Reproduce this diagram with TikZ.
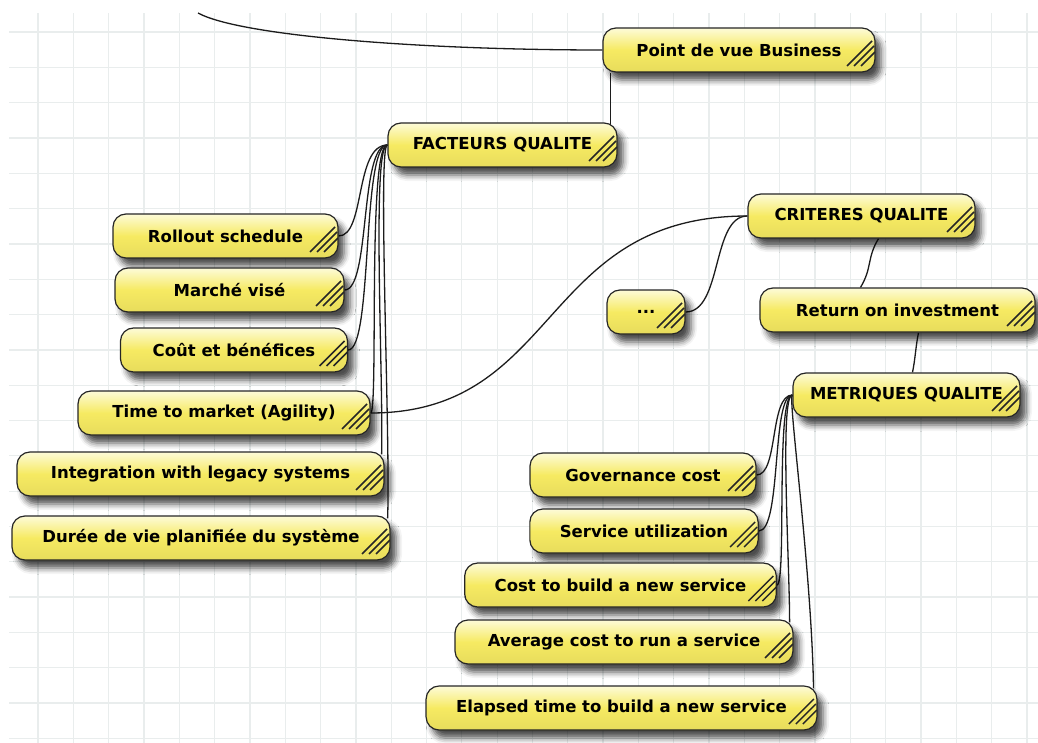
\documentclass[tikz,border=0pt]{standalone}
\usepackage{fontspec}
\newfontfamily\topicfont{DejaVu Sans}
\definecolor{TopicYellow}{RGB}{246,234,98}
\definecolor{TopicLight}{RGB}{253,251,216}
\definecolor{GridColor}{RGB}{233,237,237}
\definecolor{LinkColor}{RGB}{28,28,28}
\usetikzlibrary{shadows, shadows.blur, backgrounds, positioning}
\tikzstyle{topic} = [draw=black!85, line width=1.2pt, rounded corners=13pt,
  minimum height=44pt, minimum width=227pt, inner xsep=30pt,
  top color=TopicLight, bottom color=TopicYellow!94!black, middle color=TopicYellow,
  blur shadow={shadow xshift=6pt, shadow yshift=-8pt, shadow blur radius=6pt, shadow opacity=70},
  font=\topicfont\bfseries\fontsize{16.5}{18}\selectfont, grip]
\tikzstyle{grip} = [path picture={
  \draw[line width=1.5pt, black!85]
    ([shift={(-28pt,6pt)}]path picture bounding box.south east) -- ++(25pt,25pt)
    ([shift={(-21pt,6pt)}]path picture bounding box.south east) -- ++(20pt,20pt)
    ([shift={(-14pt,6pt)}]path picture bounding box.south east) -- ++(14pt,14pt);}]
\tikzstyle{link} = [line width=1.3pt, LinkColor]

\begin{document}
\begin{tikzpicture}[x=1pt, y=1pt]
  \useasboundingbox (0,0) rectangle (1038,-743);

  % quality factors
  \node[topic, minimum width=272pt] (pvb) at (739,-50) {Point de vue Business};
  \node[topic, minimum width=229pt, inner xsep=14pt] (fq) at (502.5,-145) {FACTEURS QUALITE};
  \node[topic, minimum width=225pt] (rollout) at (225.5,-236) {Rollout schedule};
  \node[topic, minimum width=229pt] (marche) at (229.5,-290) {Marché visé};
  \node[topic] (cout) at (234,-350) {Coût et bénéfices};
  \node[topic, minimum width=292pt] (time) at (224,-413) {Time to market (Agility)};
  \node[topic, minimum width=367pt] (integ) at (200.5,-474) {Integration with legacy systems};
  \node[topic, minimum width=378pt] (duree) at (201,-538) {Durée de vie planifiée du système};

  % criteria and metrics
  \node[topic, inner xsep=14pt] (crit) at (861.5,-216) {CRITERES QUALITE};
  \node[topic, minimum width=78pt, inner xsep=8pt] (dots) at (646,-312) {...};
  \node[topic, minimum width=275pt] (roi) at (897.5,-310) {Return on investment};
  \node[topic, inner xsep=6pt] (metr) at (906.5,-395) {METRIQUES QUALITE};
  \node[topic, minimum width=226pt] (gov) at (643,-475) {Governance cost};
  \node[topic, minimum width=226pt] (serv) at (644,-531) {Service utilization};
  \node[topic, minimum width=307pt] (costb) at (620.5,-585) {Cost to build a new service};
  \node[topic, minimum width=338pt] (avg) at (624,-642) {Average cost to run a service};
  \node[topic, minimum width=387pt] (elap) at (621.5,-708) {Elapsed time to build a new service};

  \coordinate (origin) at (198,-13);

  \begin{scope}[on background layer]
    \begin{scope}[shift={(2.68,-32)}]
      \draw[GridColor, line width=1.3pt, step=35.32pt] (6.32,19) grid (1035.32,-711);
    \end{scope}

    \draw[link] (origin) .. controls +(42,-23) and +(-180,0) .. (pvb.west);
    \draw[link] ([xshift=8pt]pvb.south west) -- +(0,-55);

    \draw[link] (fq.west) .. controls +(-33,0) and +(27,0) .. (rollout.east);
    \draw[link] (fq.west) .. controls +(-28,0) and +(26,0) .. (marche.east);
    \draw[link] (fq.west) .. controls +(-26,0) and +(25,0) .. (cout.east);
    \draw[link] (fq.west) .. controls +(-20,0) and +(8,0) .. (time.east);
    \draw[link] (fq.west) .. controls +(-16,0) and +(2,75) .. ([xshift=-3pt,yshift=-3pt]integ.north east);
    \draw[link] (fq.west) .. controls +(-10,0) and +(3,80) .. ([xshift=-3pt,yshift=-3pt]duree.north east);

    \draw[link] (time.east) .. controls +(190,0) and +(-208,0) .. (crit.west);
    \draw[link] (crit.west) .. controls +(-36,0) and +(37,0) .. (dots.east);
    \draw[link] ([xshift=17pt]crit.south) .. controls +(-12,-20) and +(12,20) .. ([xshift=-37pt]roi.north);
    \draw[link] ([xshift=21pt]roi.south) .. controls +(-3,-15) and +(3,15) .. ([xshift=6pt]metr.north);

    \draw[link] (metr.west) .. controls +(-23,0) and +(22,0) .. (gov.east);
    \draw[link] (metr.west) .. controls +(-21,0) and +(23,0) .. (serv.east);
    \draw[link] (metr.west) .. controls +(-17,0) and +(10,0) .. (costb.east);
    \draw[link] (metr.west) .. controls +(-13,0) and +(0,60) .. ([xshift=-4pt,yshift=-3pt]avg.north east);
    \draw[link] (metr.west) .. controls +(-5,0) and +(-2,120) .. ([xshift=-4pt,yshift=-3pt]elap.north east);
  \end{scope}
\end{tikzpicture}
\end{document}
